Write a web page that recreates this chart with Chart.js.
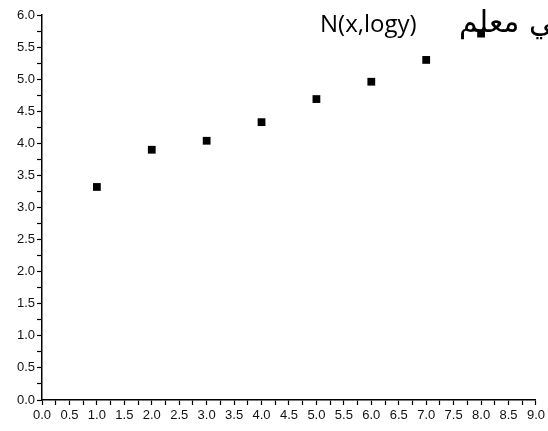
<!DOCTYPE html>
<html>
<head>
<meta charset="utf-8">
<script src="https://cdn.jsdelivr.net/npm/chart.js@4/dist/chart.umd.min.js"></script>
<style>
html,body{margin:0;padding:0;background:#fff;}
#wrap{width:548px;height:431px;position:relative;}
</style>
</head>
<body>
<div id="wrap"><canvas id="c" width="548" height="431"></canvas></div>
<script>
const xValues = [1, 2, 3, 4, 5, 6, 7, 8];
const yValues = [3.32, 3.90, 4.04, 4.33, 4.69, 4.96, 5.30, 5.71];
const titleLatin = 'N(x,logy)';
const titleArabic = 'في معلم';

const points = xValues.map((x, i) => ({x: x, y: yValues[i]}));

const titlePlugin = {
  id: 'titleText',
  afterDraw(chart) {
    const ctx = chart.ctx;
    ctx.save();
    ctx.fillStyle = '#000';
    ctx.textBaseline = 'alphabetic';
    ctx.textAlign = 'left';
    ctx.font = '24px "Open Sans", sans-serif';
    ctx.fillText(titleLatin, 320, 32);
    ctx.direction = 'rtl';
    ctx.font = '30px "DejaVu Sans", sans-serif';
    ctx.fillText(titleArabic, 459, 32);
    ctx.restore();
  }
};

const majorLabel = (v) => {
  const r = Math.round(v * 100) / 100;
  return Math.abs(r * 2 - Math.round(r * 2)) < 1e-6 ? r.toFixed(1) : '';
};

new Chart(document.getElementById('c'), {
  type: 'scatter',
  data: {
    datasets: [{
      data: points,
      backgroundColor: '#000',
      borderColor: '#000',
      borderWidth: 0,
      pointStyle: 'rect',
      pointRadius: 5.5,
      pointHoverRadius: 5.5
    }]
  },
  options: {
    responsive: false,
    animation: false,
    events: [],
    layout: {padding: {top: 15, right: 7, left: 0, bottom: 0}},
    plugins: {legend: {display: false}, tooltip: {enabled: false}, title: {display: false}},
    scales: {
      x: {
        type: 'linear',
        min: 0, max: 9,
        border: {display: true, color: '#000', width: 1.5},
        grid: {display: true, drawOnChartArea: false, drawTicks: true, tickLength: 5, color: '#000', tickWidth: 1.2},
        ticks: {stepSize: 0.25, autoSkip: false, maxRotation: 0, padding: 3, color: '#111',
                font: {family: '"Liberation Sans", Arial, sans-serif', size: 13},
                callback: majorLabel},
        afterFit(s) { s.height = 31; }
      },
      y: {
        type: 'linear',
        min: 0, max: 6,
        border: {display: true, color: '#000', width: 1.5},
        grid: {display: true, drawOnChartArea: false, drawTicks: true, tickLength: 5, color: '#000', tickWidth: 1.2},
        ticks: {stepSize: 0.25, autoSkip: false, padding: 2, color: '#111',
                font: {family: '"Liberation Sans", Arial, sans-serif', size: 13},
                callback: majorLabel},
        afterFit(s) { s.width = 42; }
      }
    }
  },
  plugins: [titlePlugin]
});
</script>
</body>
</html>
